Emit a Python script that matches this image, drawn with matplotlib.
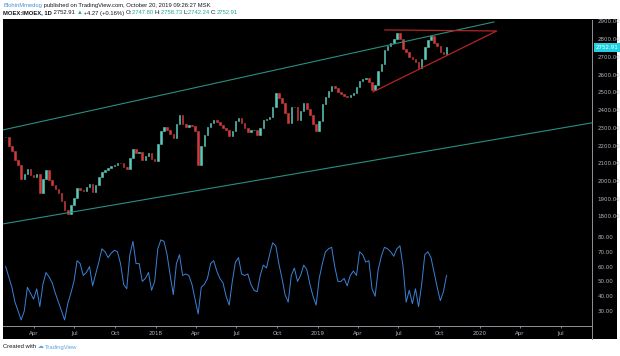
import numpy as np
import pandas as pd
import matplotlib
matplotlib.use("Agg")
import matplotlib.pyplot as plt
import matplotlib.transforms as mtransforms
from matplotlib.patches import Rectangle
from matplotlib.lines import Line2D

# weekly closes of MOEX:IMOEX (first week ends 2017-01-27)
first_week = "2017-01-27"
closes = [2250, 2200, 2170, 2120, 2090, 2010, 2040, 2066, 2035, 2020,
          2038, 1930, 2010, 2060, 2005, 1980, 1955, 1935, 1890, 1835,
          1815, 1865, 1905, 1960, 1950, 1945, 1965, 1982, 1940, 1975,
          2020, 2050, 2060, 2072, 2083, 2092, 2100, 2102, 2080, 2066,
          2130, 2178, 2160, 2165, 2120, 2140, 2160, 2125, 2110, 2210,
          2280, 2306, 2290, 2265, 2240, 2320, 2370, 2320, 2305, 2315,
          2310, 2280, 2090, 2200, 2260, 2306, 2325, 2346, 2330, 2315,
          2300, 2285, 2255, 2280, 2340, 2355, 2325, 2300, 2278, 2285,
          2290, 2262, 2300, 2346, 2352, 2360, 2420, 2497, 2470, 2441,
          2385, 2329, 2420, 2420, 2346, 2395, 2441, 2405, 2370, 2320,
          2280, 2340, 2435, 2475, 2505, 2535, 2525, 2500, 2490, 2480,
          2474, 2485, 2497, 2530, 2565, 2575, 2580, 2560, 2515, 2540,
          2620, 2660, 2738, 2760, 2777, 2800, 2833, 2800, 2745, 2728,
          2700, 2690, 2670, 2640, 2690, 2755, 2795, 2820, 2780, 2760,
          2725, 2715, 2753]

# RSI values on the same weeks
rsi = [60, 53, 46, 36, 30, 24, 30, 46, 42, 38,
       45, 33, 48, 56, 53, 49, 42, 36, 30, 24,
       35, 42, 50, 64, 62, 54, 56, 60, 47, 55,
       63, 72, 70, 66, 69, 71, 70, 62, 48, 45,
       68, 77, 62, 62, 50, 52, 56, 44, 50, 72,
       78, 77, 68, 54, 41, 62, 68, 54, 55, 54,
       48, 38, 28, 46, 48, 52, 62, 64, 57, 52,
       49, 40, 34, 50, 63, 66, 55, 54, 55, 48,
       44, 43, 54, 61, 59, 68, 76, 74, 62, 52,
       41, 36, 54, 59, 50, 54, 61, 58, 48, 40,
       34, 52, 62, 70, 72, 73, 60, 50, 50, 52,
       47, 54, 57, 54, 70, 68, 63, 64, 45, 40,
       58, 67, 73, 72, 70, 67, 72, 74, 60, 36,
       44, 35, 45, 33, 48, 68, 70, 66, 56, 46,
       37, 43, 54]

last_price = 2752.91

# drawn trend lines (date, value)
upper_channel_dates = ["2017-01-21", "2020-02-02"]
upper_channel_vals = [2288, 2897]
lower_channel_dates = ["2017-01-21", "2020-09-10"]
lower_channel_vals = [1758, 2328]
triangle_dates = ["2019-06-01", "2020-02-08", "2019-05-05"]
triangle_vals = [2852, 2846, 2502]

price_ticks = [1800, 1900, 2000, 2100, 2200, 2300, 2400, 2500, 2600, 2700, 2800, 2900]
rsi_ticks = [30, 40, 50, 60, 70, 80]
time_ticks = ["2017-04-01", "2017-07-01", "2017-10-01", "2018-01-01", "2018-04-01",
              "2018-07-01", "2018-10-01", "2019-01-01", "2019-04-01", "2019-07-01",
              "2019-10-01", "2020-01-01", "2020-04-01", "2020-07-01"]
time_labels = ["Apr", "Jul", "Oct", "2018", "Apr", "Jul", "Oct", "2019",
               "Apr", "Jul", "Oct", "2020", "Apr", "Jul"]

W, H = 620, 356
def fx(px):
    return px / W
def fy(py):
    return 1 - py / H

fig = plt.figure(figsize=(6.2, 3.56), dpi=100, facecolor="white")
fig.add_artist(Rectangle((fx(3), fy(339)), fx(617) - fx(3), fy(19) - fy(339),
                         transform=fig.transFigure, facecolor="black", edgecolor="none", zorder=0))

ax = fig.add_axes([fx(3), fy(231), fx(592) - fx(3), fy(20) - fy(231)], facecolor="black")
ax2 = fig.add_axes([fx(3), fy(326), fx(592) - fx(3), fy(231) - fy(326)], facecolor="black", sharex=ax)

# candles: open = previous close
dates = pd.date_range(first_week, periods=len(closes), freq="7D")
c = np.array(closes, dtype=float)
o = np.concatenate([[c[0]], c[:-1]])
up = c >= o
ax.bar(dates[up], (c - o)[up], bottom=o[up], width=3.5, color="#5cc9bd",
       edgecolor="#5cc9bd", linewidth=0.4)
ax.bar(dates[~up], (c - o)[~up], bottom=o[~up], width=3.5, color="#d03a3a",
       edgecolor="#d03a3a", linewidth=0.4)

grn = "#2a8f80"
ax.plot(pd.to_datetime(upper_channel_dates), upper_channel_vals, color=grn, lw=0.8)
ax.plot(pd.to_datetime(lower_channel_dates), lower_channel_vals, color=grn, lw=0.8)
ax.plot(pd.to_datetime(triangle_dates), triangle_vals, color="#b52424", lw=0.9)

ax.set_xlim(pd.Timestamp("2017-01-21"), pd.Timestamp("2020-09-10"))
ax.set_ylim(1718, 2908)
ax.yaxis.tick_right()
ax.set_yticks(price_ticks)
ax.set_yticklabels(["%.2f" % v for v in price_ticks])
ax.tick_params(axis="y", length=0, pad=4, labelsize=4, labelcolor="#b2b5be")
ax.tick_params(axis="x", bottom=False, labelbottom=False)

# current price tag
tr = mtransforms.blended_transform_factory(ax.transAxes, ax.transData)
ax.text(1.006, last_price, "%.2f" % last_price, transform=tr, fontsize=4, color="white",
        va="center", ha="left", clip_on=False,
        bbox=dict(boxstyle="square,pad=0.35", facecolor="#1fd1e1", edgecolor="none"))

ax2.plot(dates, rsi, color="#3b82d6", lw=0.7)
ax2.set_ylim(19.9, 84)
ax2.yaxis.tick_right()
ax2.set_yticks(rsi_ticks)
ax2.set_yticklabels(["%.2f" % v for v in rsi_ticks])
ax2.tick_params(axis="y", length=0, pad=4, labelsize=4, labelcolor="#b2b5be")
ax2.set_xticks(pd.to_datetime(time_ticks))
ax2.set_xticklabels(time_labels)
ax2.tick_params(axis="x", length=1.5, width=0.5, pad=2, labelsize=4, colors="#b2b5be")

sp_col = "#8f929b"
for a in (ax, ax2):
    a.spines["left"].set_visible(False)
    a.spines["top"].set_visible(False)
    a.spines["right"].set_color(sp_col)
    a.spines["bottom"].set_color(sp_col)
    a.spines["right"].set_linewidth(0.7)
    a.spines["bottom"].set_linewidth(0.7)
fig.add_artist(Line2D([fx(592), fx(592)], [fy(326), fy(339)], transform=fig.transFigure,
                      color=sp_col, lw=0.7))

# header and footer text
fam = ["Liberation Sans", "DejaVu Sans"]
renderer = fig.canvas.get_renderer()

def put_segments(x, y, segs, size, bold_first=False):
    for i, (s, col) in enumerate(segs):
        w = "bold" if (bold_first and i == 0) else "normal"
        t = fig.text(x, y, s, color=col, fontsize=size, family=fam, va="center",
                     ha="left", fontweight=w)
        bb = t.get_window_extent(renderer=renderer)
        x += bb.width / fig.bbox.width

put_segments(fx(3), fy(5), [("BlohinMmedog", "#4a90d9"),
                            (" published on TradingView.com, October 20, 2019 09:26:27 MSK", "#131722")], 4.2)
put_segments(fx(3), fy(13), [("MOEX:IMOEX, 1D", "#131722"),
                             (" 2752.91 ", "#131722"),
                             ("\u25b2", "#26a69a"),
                             (" +4.27 (+0.16%) ", "#131722"),
                             ("O:", "#131722"), ("2747.80 ", "#26a69a"),
                             ("H:", "#131722"), ("2758.73 ", "#26a69a"),
                             ("L:", "#131722"), ("2742.24 ", "#26a69a"),
                             ("C:", "#131722"), ("2752.91", "#26a69a")], 4.2, bold_first=True)
put_segments(fx(3), fy(347), [("Created with ", "#131722"),
                              ("\u2601 ", "#5ba4e0"),
                              ("TradingView", "#5ba4e0")], 4.2)

fig.savefig("out.png", dpi=100, facecolor="white")
